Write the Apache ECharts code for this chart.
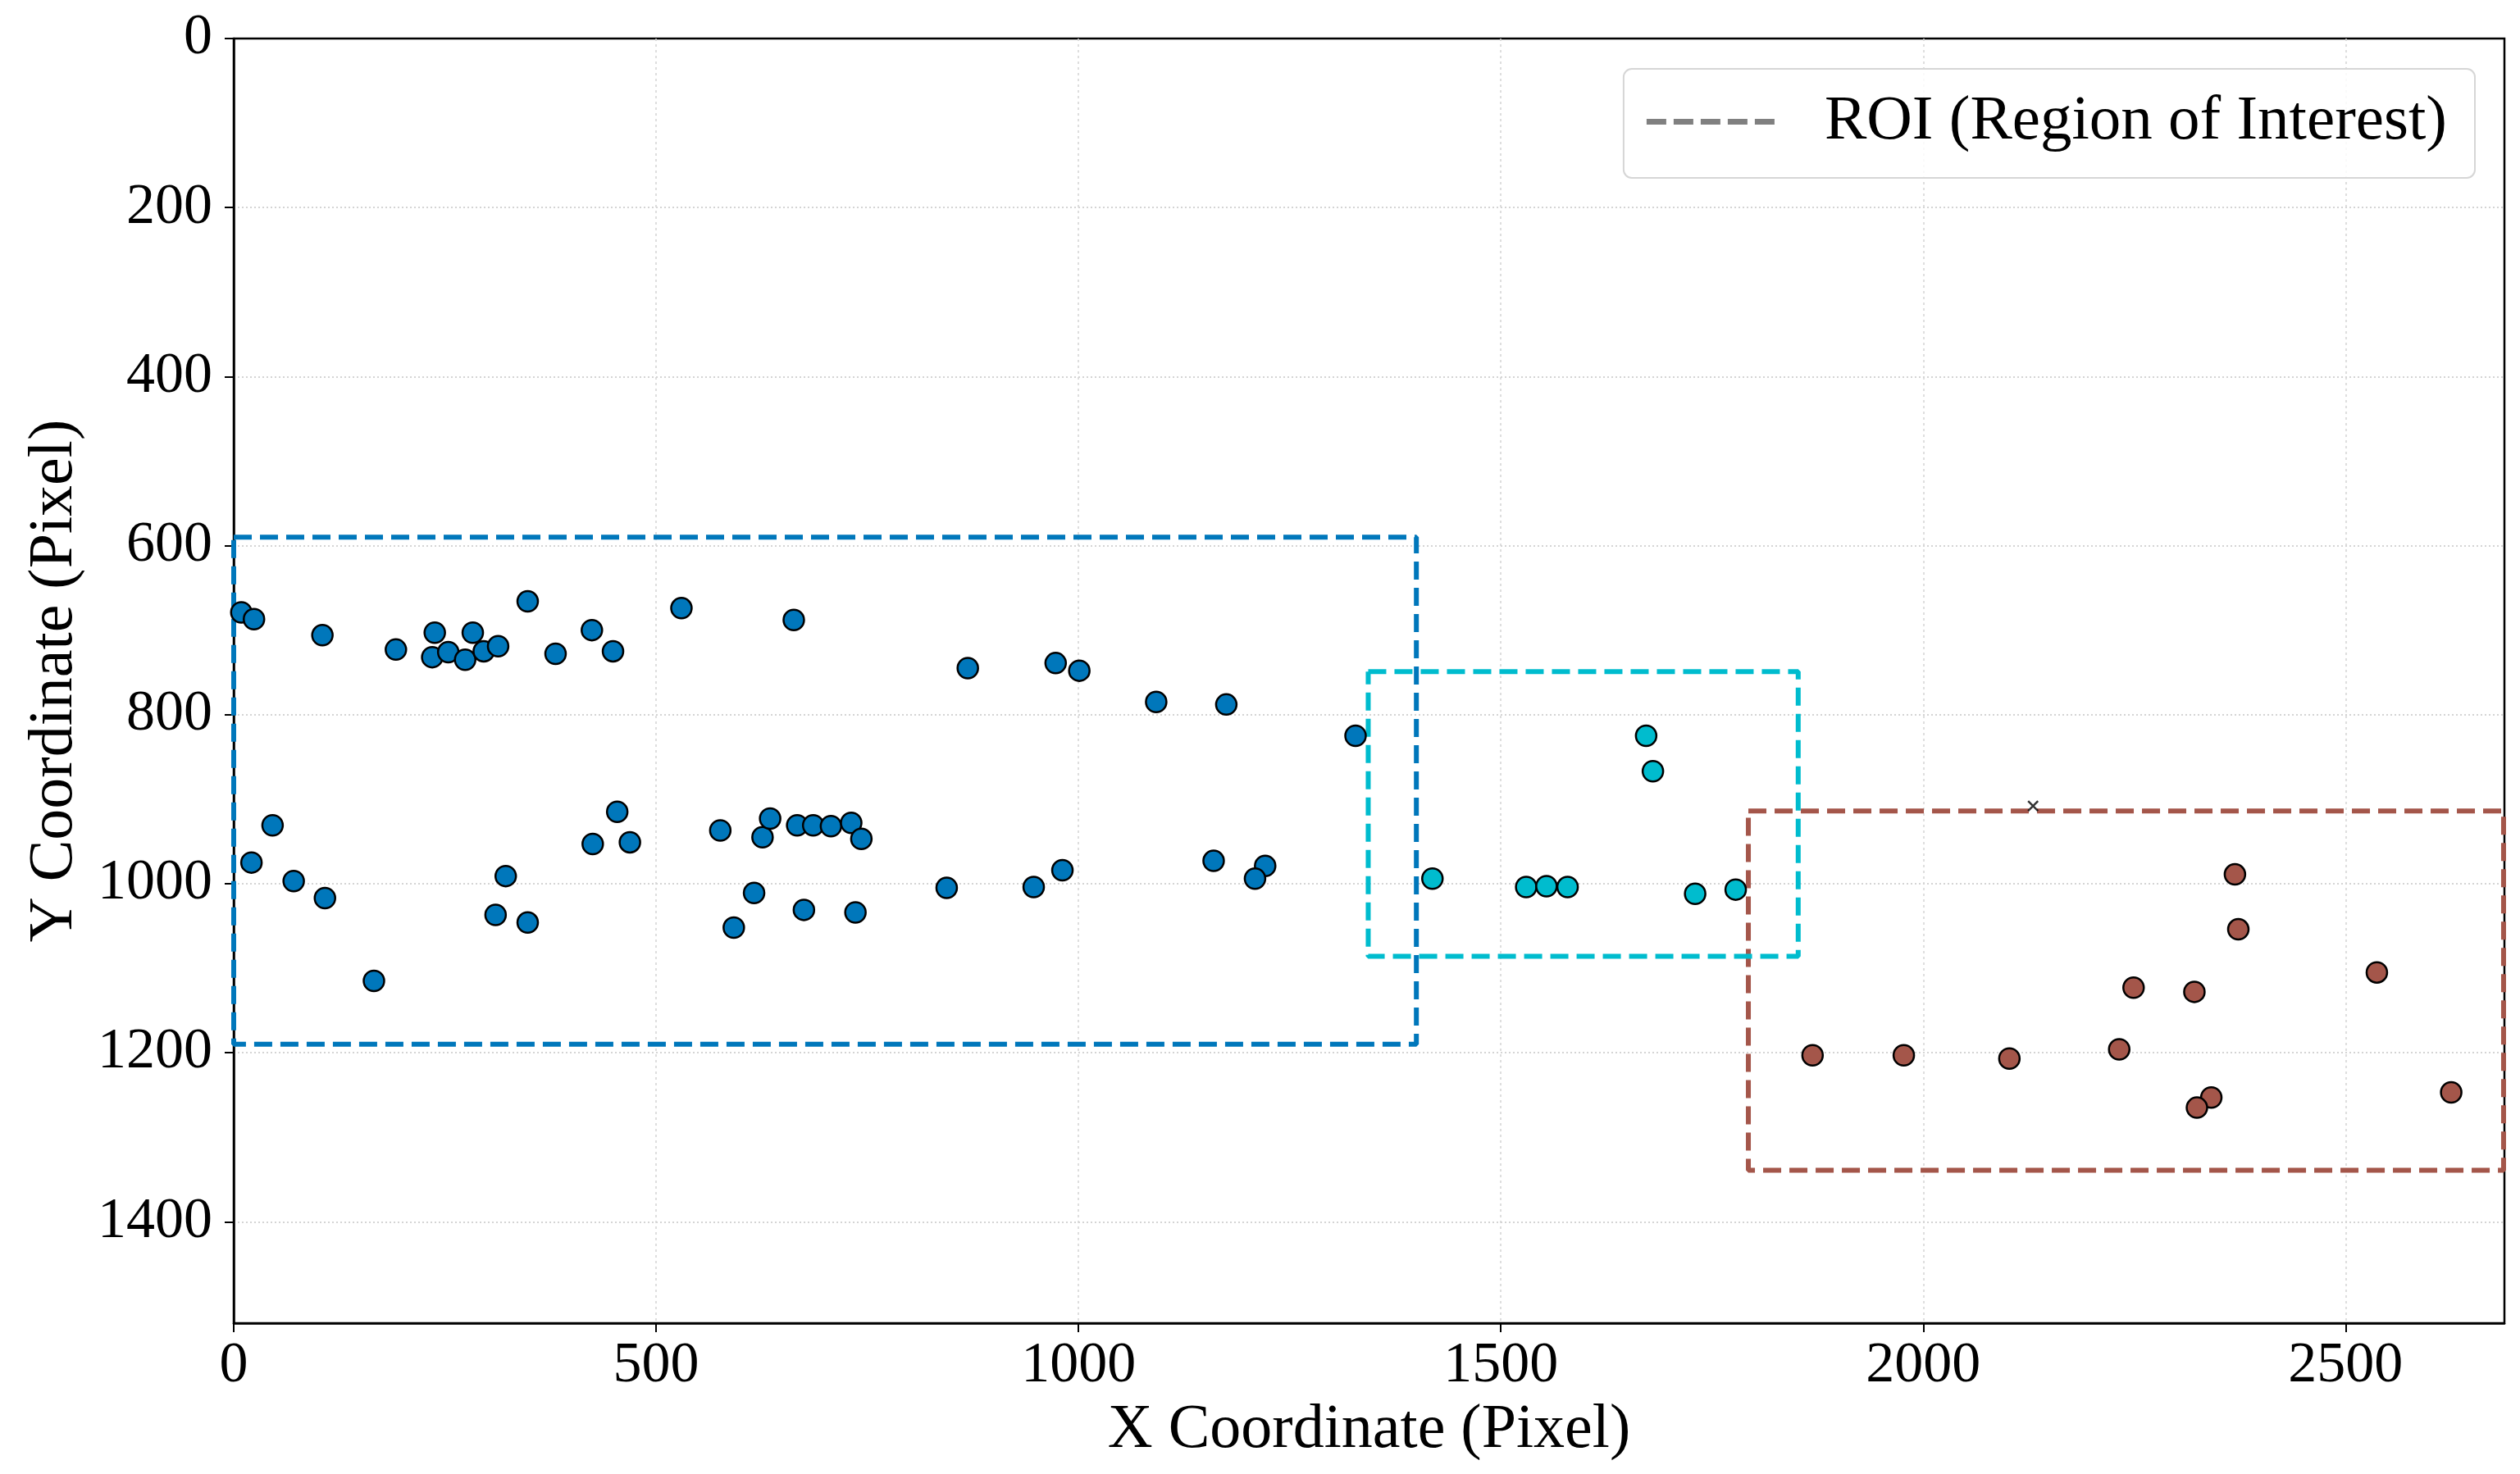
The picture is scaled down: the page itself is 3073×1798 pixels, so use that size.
<!DOCTYPE html>
<html>
<head>
<meta charset="utf-8">
<script src="https://cdn.jsdelivr.net/npm/echarts@6/dist/echarts.min.js"></script>
<style>
html,body{margin:0;padding:0;background:#fff;}
#chart{width:3073px;height:1798px;}
</style>
</head>
<body>
<div id="chart"></div>
<script>
// ---- data (image pixel coordinates) ----
const blueX = [9,24,105,192,238,235,254,274,283,296,313,348,381,424,449,530,663,869,973,1001,1092,1175,1328,
  46,21,71,108,166,310,322,348,425,454,469,576,592,616,626,635,667,686,707,731,743,675,736,844,947,981,1160,1221,1209];
const blueY = [679,687,706,723,703,732,726,735,703,725,719,666,728,700,725,674,688,745,739,748,785,788,825,
  931,975,997,1017,1115,1037,991,1046,953,915,951,937,1052,1011,945,923,931,931,932,928,947,1031,1034,1005,1004,984,973,979,994];
const cyanX = [1419,1530,1554,1579,1672,1680,1730,1778];
const cyanY = [994,1004,1003,1004,825,867,1012,1007];
const brownX = [1869,1977,2102,2232,2249,2321,2369,2373,2537,2341,2324,2625];
const brownY = [1203,1203,1207,1196,1123,1128,989,1054,1105,1253,1265,1247];
// ROI boxes: [xMin, yMin, xMax, yMax]
const roiBlue = [0, 590, 1400, 1190];
const roiCyan = [1343, 749, 1852, 1086];
const roiBrown = [1793, 914, 2687, 1339];
const markerPoint = [2130, 908];
const xTicks = [0, 500, 1000, 1500, 2000, 2500];
const yTicks = [0, 200, 400, 600, 800, 1000, 1200, 1400];
const xLimit = [0, 2688];
const yLimit = [0, 1520];
const legendLabel = 'ROI (Region of Interest)';

const C_BLUE = '#0077BB', C_CYAN = '#00BCCE', C_BROWN = '#A4564A', C_LEGEND = '#808080';
const FONT = 'Liberation Serif';
const DASH_ICON = 'path://M0,0h24v7h-24z M33,0h24v7h-24z M66,0h24v7h-24z M99,0h24v7h-24z M132,0h24v7h-24z';

function pts(xs, ys){ return xs.map((x,i)=>[x, ys[i]]); }
function rect(r){ return [[r[0],r[1]],[r[2],r[1]],[r[2],r[3]],[r[0],r[3]],[r[0],r[1]]]; }
function roiSeries(r, color, z){
  return {type:'line', data: rect(r), symbol:'none', silent:true, z:z,
    lineStyle:{color:color, width:6, type:[22,10]}, animation:false};
}
function scatterSeries(xs, ys, color){
  return {type:'scatter', data: pts(xs, ys), symbol:'circle', symbolSize:25, z:10,
    itemStyle:{color:color, borderColor:'#000', borderWidth:2.5, opacity:1}, animation:false};
}

const chart = echarts.init(document.getElementById('chart'), null, {renderer:'canvas', devicePixelRatio:1});
chart.setOption({
  backgroundColor:'#fff',
  animation:false,
  grid:{left:285, right:19, top:47, bottom:184, show:true, borderColor:'#000', borderWidth:2.5, backgroundColor:'transparent'},
  legend:{
    data:[{name:legendLabel, icon:DASH_ICON, itemStyle:{color:C_LEGEND, borderWidth:0}}],
    right:55, top:84,
    padding:[26,34,30,28], itemWidth:156, itemHeight:7,
    backgroundColor:'rgba(255,255,255,0.85)', borderColor:'#d6d6d6', borderWidth:2, borderRadius:10,
    textStyle:{fontFamily:FONT, fontSize:77, color:'#000', lineHeight:76, padding:[0,0,0,56]}
  },
  xAxis:{
    type:'value', min:xLimit[0], max:xLimit[1], interval:500,
    name:'X Coordinate (Pixel)', nameLocation:'middle', nameGap:92,
    nameTextStyle:{fontFamily:FONT, fontSize:76, color:'#000'},
    axisLine:{show:true, onZero:false, lineStyle:{color:'#000', width:2.5}},
    axisTick:{show:true, length:11, lineStyle:{color:'#000', width:2}},
    axisLabel:{fontFamily:FONT, fontSize:70, color:'#000', margin:18, showMaxLabel:false,
      formatter:v => xTicks.includes(v) ? String(v) : ''},
    splitLine:{show:true, showMinLine:false, showMaxLine:false, lineStyle:{color:'#d4d4d4', width:1.5, type:[3,4]}}
  },
  yAxis:{
    type:'value', inverse:true, min:yLimit[0], max:yLimit[1], interval:200,
    name:'Y Coordinate (Pixel)', nameLocation:'middle', nameGap:180, nameRotate:90,
    nameTextStyle:{fontFamily:FONT, fontSize:76, color:'#000'},
    axisLine:{show:true, onZero:false, lineStyle:{color:'#000', width:2.5}},
    axisTick:{show:true, length:11, lineStyle:{color:'#000', width:2}},
    axisLabel:{fontFamily:FONT, fontSize:70, color:'#000', margin:26, showMaxLabel:false,
      formatter:v => yTicks.includes(v) ? String(v) : ''},
    splitLine:{show:true, showMinLine:false, showMaxLine:false, lineStyle:{color:'#d4d4d4', width:2, type:[2,3]}}
  },
  series:[
    {name:legendLabel, type:'line', data:[], symbol:'none', color:C_LEGEND,
      itemStyle:{color:C_LEGEND}, lineStyle:{color:C_LEGEND, width:6, type:[22,10]}},
    roiSeries(roiBrown, C_BROWN, 3),
    roiSeries(roiCyan, C_CYAN, 4),
    roiSeries(roiBlue, C_BLUE, 5),
    scatterSeries(blueX, blueY, C_BLUE),
    scatterSeries(cyanX, cyanY, C_CYAN),
    scatterSeries(brownX, brownY, C_BROWN),
    {type:'scatter', data:[markerPoint], symbol:'path://M0,0L10,10M10,0L0,10', symbolSize:12, z:11,
      itemStyle:{color:'transparent', borderColor:'#000', borderWidth:2.5}, animation:false}
  ]
});
</script>
</body>
</html>
